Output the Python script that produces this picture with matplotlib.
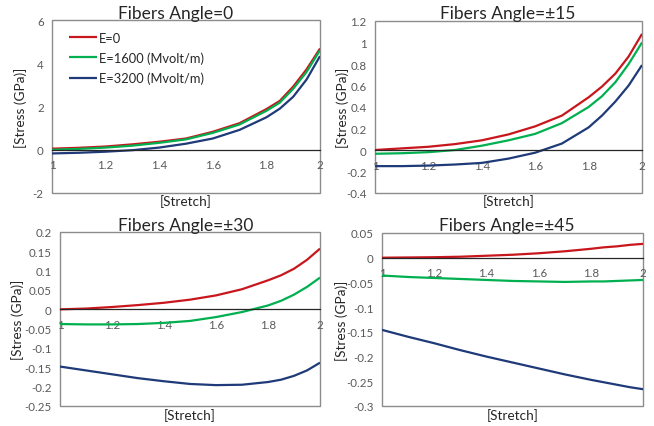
import numpy as np
import matplotlib
matplotlib.use("Agg")
import matplotlib.pyplot as plt

plt.rcParams["font.family"] = ["Lato", "DejaVu Sans"]

# =========================================================
# DATA
# =========================================================
stretch = [1.0, 1.1, 1.2, 1.3, 1.4, 1.5, 1.6, 1.7, 1.8, 1.85, 1.9, 1.95, 2.0]
series_labels = ["E=0", "E=1600 (Mvolt/m)", "E=3200 (Mvolt/m)"]
titles = ["Fibers Angle=0", "Fibers Angle=\u00b115", "Fibers Angle=\u00b130", "Fibers Angle=\u00b145"]

# angle 0
a0_e0 = [0.05, 0.09, 0.15, 0.25, 0.37, 0.52, 0.83, 1.23, 1.88, 2.26, 2.92, 3.72, 4.68]
a0_e1600 = [0.0, 0.04, 0.1, 0.19, 0.32, 0.48, 0.78, 1.17, 1.8, 2.18, 2.82, 3.6, 4.6]
a0_e3200 = [-0.17, -0.14, -0.09, -0.02, 0.1, 0.28, 0.52, 0.92, 1.5, 1.9, 2.45, 3.25, 4.33]

# angle +-15
a15_e0 = [0.0, 0.015, 0.03, 0.055, 0.09, 0.145, 0.22, 0.32, 0.49, 0.59, 0.71, 0.87, 1.08]
a15_e1600 = [-0.035, -0.03, -0.02, 0.0, 0.04, 0.09, 0.15, 0.25, 0.4, 0.5, 0.63, 0.8, 1.0]
a15_e3200 = [-0.15, -0.15, -0.145, -0.135, -0.12, -0.08, -0.025, 0.06, 0.21, 0.32, 0.45, 0.6, 0.79]

# angle +-30
a30_e0 = [0.0, 0.002, 0.006, 0.011, 0.017, 0.025, 0.036, 0.052, 0.075, 0.088, 0.105, 0.128, 0.157]
a30_e1600 = [-0.038, -0.039, -0.039, -0.038, -0.035, -0.03, -0.02, -0.007, 0.01, 0.022, 0.038, 0.058, 0.082]
a30_e3200 = [-0.148, -0.158, -0.168, -0.178, -0.186, -0.193, -0.196, -0.195, -0.188, -0.182, -0.172, -0.158, -0.138]

# angle +-45
a45_e0 = [0.0, 0.0005, 0.001, 0.002, 0.004, 0.006, 0.009, 0.013, 0.018, 0.021, 0.023, 0.026, 0.028]
a45_e1600 = [-0.036, -0.039, -0.041, -0.043, -0.045, -0.047, -0.048, -0.049, -0.048, -0.048, -0.047, -0.046, -0.045]
a45_e3200 = [-0.146, -0.16, -0.173, -0.187, -0.2, -0.212, -0.224, -0.236, -0.247, -0.252, -0.257, -0.262, -0.266]

x_ticks = [1, 1.2, 1.4, 1.6, 1.8, 2]
y_ticks_0 = [-2, 0, 2, 4, 6]
y_ticks_15 = [-0.4, -0.2, 0, 0.2, 0.4, 0.6, 0.8, 1.0, 1.2]
y_ticks_30 = [-0.25, -0.2, -0.15, -0.1, -0.05, 0, 0.05, 0.1, 0.15, 0.2]
y_ticks_45 = [-0.3, -0.25, -0.2, -0.15, -0.1, -0.05, 0, 0.05]

# =========================================================
# FIGURE
# =========================================================
colors = ["#C8161D", "#00B050", "#1F3A78"]
tick_color = "#595959"

fig = plt.figure(figsize=(6.54, 4.27), dpi=100)

W, H = 654, 427
panels = [
    # (left, right, top, bottom) in pixels, data, yticks, title centre x, title y, ylabel x, xlabel y
    ((52, 320, 21, 194), (a0_e0, a0_e1600, a0_e3200), y_ticks_0, 176, 14, 21, 202),
    ((375, 642, 22, 194), (a15_e0, a15_e1600, a15_e3200), y_ticks_15, 508, 14, 343, 202),
    ((60, 320, 233, 407), (a30_e0, a30_e1600, a30_e3200), y_ticks_30, 186, 226, 18, 416),
    ((382, 643, 234, 407), (a45_e0, a45_e1600, a45_e3200), y_ticks_45, 507, 226, 342, 416),
]

axes = []
for i, (box, data, yt, tx, ty, ylx, xly) in enumerate(panels):
    l, r, t, b = box
    ax = fig.add_axes([l / W, 1 - b / H, (r - l) / W, (b - t) / H])
    for ys, c, lab in zip(data, colors, series_labels):
        ax.plot(stretch, ys, color=c, lw=1.6, label=lab, solid_capstyle="butt")
    ax.set_xlim(1, 2)
    ax.set_ylim(yt[0], yt[-1])
    ax.set_yticks(yt)
    ax.set_yticklabels([f"{round(v, 3):g}" for v in yt])
    ax.set_xticks(x_ticks)
    ax.set_xticklabels([f"{v:g}" for v in x_ticks])

    # x axis crosses at zero like in the spreadsheet chart
    ax.spines["bottom"].set_position(("data", 0))
    ax.spines["bottom"].set_color("#262626")
    ax.spines["bottom"].set_linewidth(0.9)
    for s in ["top", "left", "right"]:
        ax.spines[s].set_visible(False)
    ax.patch.set_edgecolor("#8C8C8C")
    ax.patch.set_linewidth(1.0)

    ax.tick_params(axis="both", length=0, labelsize=8.3, colors=tick_color)
    ax.tick_params(axis="x", pad=7)
    ax.tick_params(axis="y", pad=6)

    fig.text(tx / W, 1 - ty / H, titles[i], ha="center", va="center", fontsize=12.5, color="#262626")
    fig.text(ylx / W, 1 - ((t + b) / 2) / H, "[Stress (GPa)]", rotation=90,
             ha="center", va="center", fontsize=9.8, color="#262626")
    fig.text(((l + r) / 2) / W, 1 - xly / H, "[Stretch]", ha="center", va="center",
             fontsize=9.8, color="#262626")
    axes.append(ax)

leg = axes[0].legend(loc="upper left", bbox_to_anchor=(0.02, 1.0), frameon=False,
                     fontsize=9.3, handlelength=2.2, handletextpad=0.15,
                     labelspacing=0.6, labelcolor="#262626")

fig.savefig("out.png", dpi=100)
